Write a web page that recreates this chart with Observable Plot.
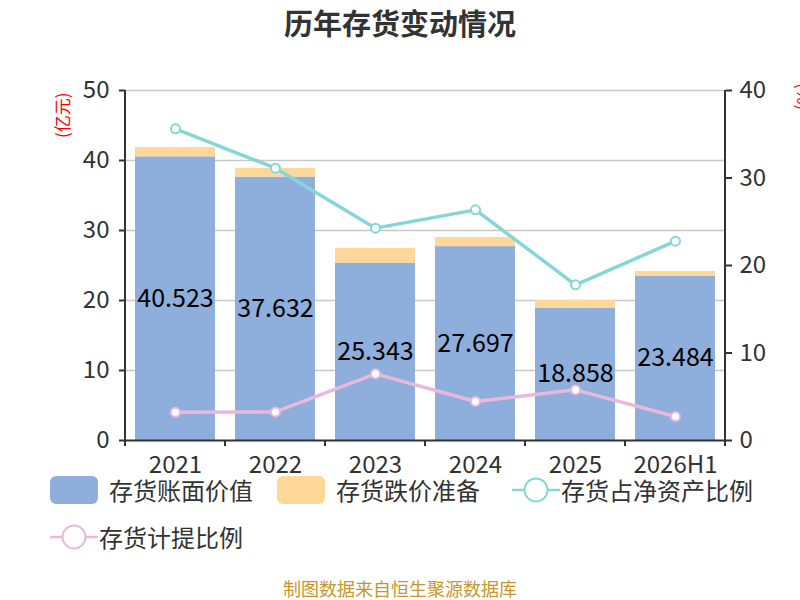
<!DOCTYPE html>
<html>
<head>
<meta charset="utf-8">
<script src="https://cdn.jsdelivr.net/npm/d3@7"></script>
<script src="https://cdn.jsdelivr.net/npm/@observablehq/plot@0.6"></script>
<style>
  html, body { margin: 0; padding: 0; background: #fff; }
  #wrap { position: relative; width: 800px; height: 600px; overflow: hidden; font-family: "Noto Sans CJK SC", "Noto Sans", sans-serif; color: #333; }
  .abs { position: absolute; white-space: nowrap; }
  #title { left: 0; width: 800px; top: 5px; text-align: center; font-size: 29px; font-weight: bold; line-height: 34px; color: #333; }
  #footer { left: 0; width: 800px; top: 578px; text-align: center; font-size: 18px; line-height: 20px; color: #c8962a; }
  .ylab { font-size: 17px; color: #f00; line-height: 18px; }
  .leg { font-size: 24px; line-height: 30px; color: #333; }
  .sw { position: absolute; width: 48px; height: 28px; border-radius: 6px; }
</style>
</head>
<body>
<div id="wrap">
  <div id="chart" class="abs" style="left:0;top:0"></div>
  <div id="title" class="abs">历年存货变动情况</div>
  <div class="abs ylab" style="left:39px;top:106px;transform:rotate(-90deg);transform-origin:23px 9px;">(亿元)</div>
  <div class="abs ylab" style="left:792px;top:86px;transform:rotate(90deg);transform-origin:12px 9px;">(%)</div>
  <div id="legend"></div>
  <div id="footer" class="abs">制图数据来自恒生聚源数据库</div>
</div>
<script>
const years = ["2021", "2022", "2023", "2024", "2025", "2026H1"];
const bookValue = [40.523, 37.632, 25.343, 27.697, 18.858, 23.484];
const impairment = [1.34, 1.23, 2.1, 1.3, 1.14, 0.67];
const netAssetRatio = [35.62, 31.12, 24.27, 26.36, 17.79, 22.78];
const provisionRatio = [3.23, 3.27, 7.62, 4.46, 5.79, 2.74];
const leftTicks = [0, 10, 20, 30, 40, 50];
const rightTicks = [0, 10, 20, 30, 40];
const seriesNames = ["存货账面价值", "存货跌价准备", "存货占净资产比例", "存货计提比例"];
const colors = ["#8eaedb", "#ffd899", "#86d6d8", "#e8b9dc"];

const leftMax = 50, rightMax = 40;
const k = leftMax / rightMax;

const stack = years.flatMap((y, i) => [
  {year: y, series: seriesNames[0], value: bookValue[i]},
  {year: y, series: seriesNames[1], value: impairment[i]}
]);
const rows = years.map((y, i) => ({year: y, book: bookValue[i], net: netAssetRatio[i], prov: provisionRatio[i]}));

const chart = Plot.plot({
  width: 800, height: 480,
  marginTop: 90, marginBottom: 40, marginLeft: 125, marginRight: 75,
  style: {fontFamily: "'Noto Sans CJK SC', 'Noto Sans', sans-serif", fontSize: "24px", color: "#333", background: "transparent", overflow: "visible"},
  x: {domain: years, paddingInner: 0.2, paddingOuter: 0.1, label: null},
  y: {domain: [0, leftMax], label: null},
  color: {domain: seriesNames.slice(0, 2), range: colors.slice(0, 2)},
  marks: [
    Plot.ruleY(leftTicks.filter(d => d > 0), {stroke: "#c8c8c8", strokeWidth: 1.5}),
    Plot.barY(stack, {x: "year", y: "value", fill: "series"}),
    Plot.line(rows, {x: "year", y: d => d.net * k, stroke: colors[2], strokeWidth: 3.5}),
    Plot.dot(rows, {x: "year", y: d => d.net * k, r: 4.5, fill: "white", stroke: colors[2], strokeWidth: 2}),
    Plot.line(rows, {x: "year", y: d => d.prov * k, stroke: colors[3], strokeWidth: 3.5}),
    Plot.dot(rows, {x: "year", y: d => d.prov * k, r: 4.5, fill: "white", stroke: colors[3], strokeWidth: 2}),
    Plot.text(rows, {x: "year", y: d => d.book / 2, text: d => d.book.toFixed(3), fontSize: 25, fill: "#000"}),
    Plot.axisY({anchor: "left", ticks: leftTicks, tickSize: 6, tickPadding: 10, strokeWidth: 2, label: null, color: "#333"}),
    Plot.axisY({anchor: "right", ticks: rightTicks.map(d => d * k), tickFormat: d => String(Math.round(d / k)), tickSize: 6, tickPadding: 8, strokeWidth: 2, label: null, color: "#333"}),
    Plot.axisX({tickSize: 0, tickPadding: 15, label: null, color: "#333"}),
    Plot.ruleY([0], {stroke: "#333", strokeWidth: 2})
  ]
});
document.getElementById("chart").appendChild(chart);

// axis lines and band-boundary ticks, placed through the plot's own scales
const xs = chart.scale("x"), ys = chart.scale("y");
const [x0, x1] = xs.range;
const yTop = ys.apply(leftMax), yBot = ys.apply(0);
const svg = d3.select(chart);
const g = svg.append("g").attr("stroke", "#333").attr("stroke-width", 2);
g.append("line").attr("x1", x0).attr("x2", x0).attr("y1", yTop).attr("y2", yBot);
g.append("line").attr("x1", x1).attr("x2", x1).attr("y1", yTop).attr("y2", yBot);
const gap = (xs.step - xs.bandwidth) / 2;
const bounds = years.map(y => xs.apply(y) - gap).concat([xs.apply(years[years.length - 1]) + xs.bandwidth + gap]);
bounds.forEach(b => g.append("line").attr("x1", b).attr("x2", b).attr("y1", yBot).attr("y2", yBot + 6));

// legend
const legend = document.getElementById("legend");
const items = [
  {name: seriesNames[0], color: colors[0], type: "rect", left: 50, top: 490},
  {name: seriesNames[1], color: colors[1], type: "rect", left: 277, top: 490},
  {name: seriesNames[2], color: colors[2], type: "line", left: 512, top: 490},
  {name: seriesNames[3], color: colors[3], type: "line", left: 50, top: 537}
];
items.forEach(it => {
  if (it.type === "rect") {
    const s = document.createElement("div");
    s.className = "sw";
    s.style.left = it.left + "px";
    s.style.top = (it.top - 14) + "px";
    s.style.background = it.color;
    legend.appendChild(s);
  } else {
    const ns = "http://www.w3.org/2000/svg";
    const s = document.createElementNS(ns, "svg");
    s.setAttribute("width", 48); s.setAttribute("height", 28);
    s.style.position = "absolute";
    s.style.left = it.left + "px";
    s.style.top = (it.top - 14) + "px";
    s.innerHTML = `<line x1="0" x2="48" y1="14" y2="14" stroke="${it.color}" stroke-width="2.5"/><circle cx="24" cy="14" r="11.5" fill="#fff" stroke="${it.color}" stroke-width="2"/>`;
    legend.appendChild(s);
  }
  const t = document.createElement("div");
  t.className = "abs leg";
  t.textContent = it.name;
  t.style.left = (it.left + (it.type === "rect" ? 59 : 49)) + "px";
  t.style.top = (it.top - 15) + "px";
  legend.appendChild(t);
});
</script>
</body>
</html>
